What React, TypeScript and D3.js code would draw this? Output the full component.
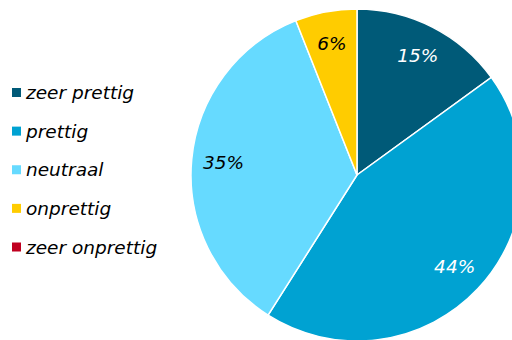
import React from "react";
import * as d3 from "d3";

const categories = ["zeer prettig", "prettig", "neutraal", "onprettig", "zeer onprettig"];
const values = [15, 44, 35, 6, 0];
const colors = ["#005a78", "#00a2d2", "#66daff", "#ffcc00", "#c00020"];
const labelColors = ["#ffffff", "#ffffff", "#000000", "#000000", "#ffffff"];

const W = 512;
const H = 340;
const cx = 357;
const cy = 175;
const R = 166;
const LR = 134;

export default function App() {
  const pie = d3.pie<number>().sort(null).value((d) => d);
  const arcs = pie(values);
  const arc = d3.arc<d3.PieArcDatum<number>>().innerRadius(0).outerRadius(R);
  const labelArc = d3.arc<d3.PieArcDatum<number>>().innerRadius(LR).outerRadius(LR);
  const legendY = d3.scaleLinear().domain([0, 4]).range([92.5, 247]);
  const font = "'DejaVu Sans', Verdana, sans-serif";
  return (
    <svg
      width={W}
      height={H}
      style={{ position: "absolute", left: 0, top: 0 }}
      fontFamily={font}
    >
      <rect width={W} height={H} fill="#ffffff" />
      <g transform={`translate(${cx},${cy})`}>
        {arcs.map((a, i) =>
          a.value > 0 ? (
            <path key={i} d={arc(a) || ""} fill={colors[i]} stroke="#ffffff" strokeWidth={1.5} />
          ) : null
        )}
        {arcs.map((a, i) => {
          if (a.value <= 0) return null;
          const [x, y] = labelArc.centroid(a);
          return (
            <text
              key={i}
              x={x}
              y={y}
              textAnchor="middle"
              dominantBaseline="central"
              fontSize={18.5}
              fontStyle="italic"
              fill={labelColors[i]}
            >
              {a.value}%
            </text>
          );
        })}
      </g>
      {categories.map((c, i) => (
        <g key={c} transform={`translate(0,${legendY(i)})`}>
          <rect x={12} y={-4.5} width={9} height={9} fill={colors[i]} />
          <text x={26} y={0} dominantBaseline="central" fontSize={18.5} fontStyle="italic" fill="#000000">
            {c}
          </text>
        </g>
      ))}
    </svg>
  );
}
